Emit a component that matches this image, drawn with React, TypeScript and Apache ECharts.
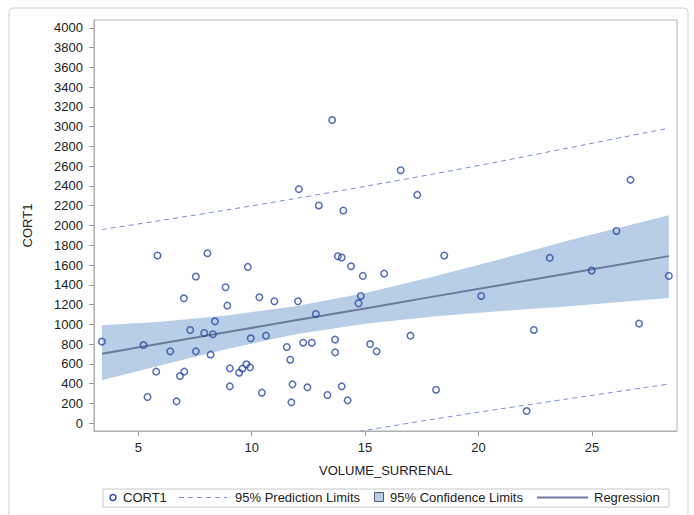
import React, { useEffect, useRef } from "react";
import * as echarts from "echarts";

// Scatter observations (VOLUME_SURRENAL, CORT1)
const volume = [
  3.4, 5.85, 8.05, 9.83, 7.54, 8.85, 7.01, 10.34, 11.0, 8.93, 8.38, 7.29, 7.91, 8.29, 9.96, 10.63,
  5.23, 6.41, 7.54, 8.19, 11.55, 11.7, 5.79, 7.03, 6.84, 9.04, 9.77, 9.93, 9.59, 9.45, 9.04, 10.45,
  5.41, 6.69, 11.8, 11.75, 13.8, 13.97, 14.38, 14.9, 15.84, 18.49, 12.04, 14.81, 14.71, 12.83, 20.12,
  12.27, 12.65, 13.68, 13.68, 15.22, 15.51, 17.0, 12.46, 13.34, 13.97, 14.23, 18.13, 13.55, 16.57,
  12.08, 12.96, 14.04, 17.3, 26.7, 26.08, 23.14, 24.99, 28.39, 22.44, 27.08, 22.12,
];
const cort = [
  825, 1696, 1719, 1581, 1483, 1375, 1263, 1274, 1233, 1189, 1030, 942, 912, 899, 858, 885,
  790, 726, 726, 693, 770, 642, 521, 521, 477, 554, 595, 564, 551, 510, 372, 308,
  264, 220, 392, 210, 1689, 1676, 1588, 1490, 1513, 1696, 1233, 1287, 1213, 1105, 1287,
  814, 814, 845, 716, 800, 726, 885, 362, 284, 372, 230, 338, 3067, 2560,
  2368, 2203, 2152, 2310, 2462, 1945, 1672, 1544, 1490, 943, 1007, 122,
];

// Fit, confidence and prediction limits read at these x positions
const bandX = [3.4, 6, 9, 12, 15, 18, 21, 24, 28.39];
const fitY = [703, 806, 924, 1043, 1161, 1280, 1398, 1517, 1690];
const clLower = [433, 585, 756, 902, 1006, 1078, 1134, 1183, 1266];
const clUpper = [990, 1027, 1092, 1184, 1316, 1482, 1662, 1851, 2104];
const plLower = [-553, -439, -313, -190, -74, 39, 145, 247, 395];
const plUpper = [1959, 2051, 2161, 2276, 2396, 2521, 2651, 2787, 2985];

// Axis ticks
const yTicks = [0, 200, 400, 600, 800, 1000, 1200, 1400, 1600, 1800, 2000, 2200, 2400, 2600, 2800, 3000, 3200, 3400, 3600, 3800, 4000];
const xTicks = [5, 10, 15, 20, 25];

const FONT = "'Liberation Sans', Arial, sans-serif";
const MARKER = "#2548a6";
const BAND = "#b8cde6";
const FIT = "#6a7a9c";
const PRED = "#7c8cd2";
const TXT = "#222222";

export default function App() {
  const ref = useRef<HTMLDivElement>(null);

  useEffect(() => {
    if (!ref.current) return;
    const chart = echarts.init(ref.current, undefined, { renderer: "svg" });

    const scatterData = volume.map((v, i) => [v, cort[i]]);
    const bandData = bandX.map((x, i) => [x, clLower[i], clUpper[i]]);

    const legendY = 497.5;

    chart.setOption({
      animation: false,
      backgroundColor: "#ffffff",
      grid: {
        left: 94,
        top: 20,
        width: 583,
        height: 411,
        show: true,
        borderColor: "#b0b0b0",
        borderWidth: 1,
        backgroundColor: "transparent",
      },
      xAxis: {
        type: "value",
        min: 3.05,
        max: 28.75,
        name: "VOLUME_SURRENAL",
        nameLocation: "middle",
        nameGap: 33,
        nameTextStyle: { fontFamily: FONT, fontSize: 13, color: TXT },
        axisLine: { show: true, onZero: false, lineStyle: { color: "#b0b0b0" } },
        axisTick: { show: true, customValues: xTicks, length: 5, lineStyle: { color: "#999999" } },
        axisLabel: {
          customValues: xTicks,
          fontFamily: FONT,
          fontSize: 13,
          color: TXT,
          margin: 10,
          formatter: (v: number) => String(v),
        },
        splitLine: { show: false },
      },
      yAxis: {
        type: "value",
        min: -80,
        max: 4080,
        name: "CORT1",
        nameLocation: "middle",
        nameRotate: 90,
        nameGap: 60,
        nameTextStyle: { fontFamily: FONT, fontSize: 13, color: TXT },
        axisLine: { show: true, onZero: false, lineStyle: { color: "#b0b0b0" } },
        axisTick: { show: true, customValues: yTicks, length: 5, lineStyle: { color: "#999999" } },
        axisLabel: {
          customValues: yTicks,
          fontFamily: FONT,
          fontSize: 13,
          color: TXT,
          margin: 11,
          formatter: (v: number) => String(v),
        },
        splitLine: { show: false },
      },
      series: [
        {
          type: "custom",
          name: "95% Confidence Limits",
          data: bandData,
          silent: true,
          z: 1,
          renderItem: (params: any, api: any) => {
            if (params.dataIndex !== 0) return null;
            const upper = bandX.map((x, i) => api.coord([x, clUpper[i]]));
            const lower = bandX.map((x, i) => api.coord([x, clLower[i]])).reverse();
            return {
              type: "polygon",
              shape: { points: upper.concat(lower) },
              style: { fill: BAND, stroke: "none" },
            };
          },
        },
        {
          type: "line",
          name: "Regression",
          data: bandX.map((x, i) => [x, fitY[i]]),
          symbol: "none",
          lineStyle: { color: FIT, width: 2 },
          z: 2,
        },
        {
          type: "line",
          name: "95% Prediction Limits",
          data: bandX.map((x, i) => [x, plUpper[i]]),
          symbol: "none",
          smooth: 0.3,
          clip: true,
          lineStyle: { color: PRED, width: 1, type: [5, 4] },
          z: 2,
        },
        {
          type: "line",
          name: "95% Prediction Limits lower",
          data: bandX.map((x, i) => [x, plLower[i]]),
          symbol: "none",
          smooth: 0.3,
          clip: true,
          lineStyle: { color: PRED, width: 1, type: [5, 4] },
          z: 2,
        },
        {
          type: "scatter",
          name: "CORT1",
          data: scatterData,
          symbol: "circle",
          symbolSize: 6.5,
          itemStyle: { color: "rgba(255,255,255,0)", borderColor: MARKER, borderWidth: 1.5 },
          z: 3,
        },
      ],
      graphic: [
        {
          type: "rect",
          shape: { x: 9, y: 8, width: 679, height: 530, r: 4 },
          style: { fill: "none", stroke: "#cfcfcf", lineWidth: 1 },
          silent: true,
        },
        {
          type: "rect",
          shape: { x: 103, y: 489, width: 566, height: 18 },
          style: { fill: "#ffffff", stroke: "#c8c8c8", lineWidth: 1 },
          silent: true,
        },
        {
          type: "circle",
          shape: { cx: 113, cy: legendY, r: 3 },
          style: { fill: "none", stroke: MARKER, lineWidth: 1.5 },
        },
        {
          type: "text",
          x: 123,
          y: legendY,
          style: { text: "CORT1", fontFamily: FONT, fontSize: 13, fill: TXT, verticalAlign: "middle" },
        },
        {
          type: "line",
          shape: { x1: 179, y1: legendY, x2: 227, y2: legendY },
          style: { stroke: PRED, lineWidth: 1, lineDash: [5, 4] },
        },
        {
          type: "text",
          x: 235,
          y: legendY,
          style: { text: "95% Prediction Limits", fontFamily: FONT, fontSize: 13, fill: TXT, verticalAlign: "middle" },
        },
        {
          type: "rect",
          shape: { x: 374.5, y: legendY - 5, width: 9, height: 9 },
          style: { fill: BAND, stroke: "#505a70", lineWidth: 1 },
        },
        {
          type: "text",
          x: 390,
          y: legendY,
          style: { text: "95% Confidence Limits", fontFamily: FONT, fontSize: 13, fill: TXT, verticalAlign: "middle" },
        },
        {
          type: "line",
          shape: { x1: 537, y1: legendY, x2: 588, y2: legendY },
          style: { stroke: FIT, lineWidth: 2 },
        },
        {
          type: "text",
          x: 594,
          y: legendY,
          style: { text: "Regression", fontFamily: FONT, fontSize: 13, fill: TXT, verticalAlign: "middle" },
        },
      ],
    });

    return () => chart.dispose();
  }, []);

  return (
    <div
      ref={ref}
      style={{ position: "fixed", left: 0, top: 0, width: 694, height: 515, background: "#ffffff" }}
    />
  );
}
